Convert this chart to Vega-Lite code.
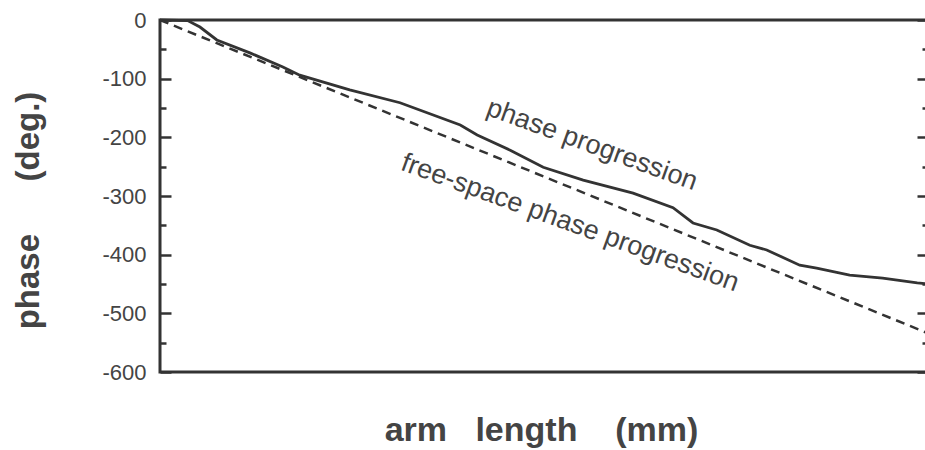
{
  "$schema": "https://vega.github.io/schema/vega-lite/v6.json",
  "width": 768,
  "height": 352,
  "autosize": "none",
  "padding": {"left": 160, "top": 20, "right": 0, "bottom": 78},
  "background": "white",
  "config": {
    "view": {"stroke": "#333333", "strokeWidth": 3},
    "font": "Liberation Sans"
  },
  "datasets": {
    "measured": [
      {"arm": 0, "phase": 0},
      {"arm": 3.6, "phase": -1},
      {"arm": 5.2, "phase": -12},
      {"arm": 7.4, "phase": -34},
      {"arm": 11.7, "phase": -56},
      {"arm": 16.0, "phase": -80},
      {"arm": 18.2, "phase": -94},
      {"arm": 24.7, "phase": -119},
      {"arm": 31.25, "phase": -141},
      {"arm": 39.1, "phase": -179},
      {"arm": 41.3, "phase": -196},
      {"arm": 45.6, "phase": -222},
      {"arm": 49.9, "phase": -251},
      {"arm": 55.1, "phase": -273},
      {"arm": 61.6, "phase": -295},
      {"arm": 66.8, "phase": -320},
      {"arm": 69.4, "phase": -346},
      {"arm": 72.5, "phase": -358},
      {"arm": 76.8, "phase": -384},
      {"arm": 79.0, "phase": -392},
      {"arm": 83.3, "phase": -418},
      {"arm": 85.5, "phase": -423},
      {"arm": 89.8, "phase": -435},
      {"arm": 94.1, "phase": -440},
      {"arm": 98.6, "phase": -448},
      {"arm": 100, "phase": -450}
    ],
    "freespace": [
      {"arm": 0, "phase": 0},
      {"arm": 100, "phase": -534}
    ],
    "labels": [
      {"arm": 56.25, "phase": -213, "label": "phase progression"},
      {"arm": 53.4, "phase": -346, "label": "free-space phase progression"}
    ]
  },
  "encoding": {
    "x": {
      "field": "arm",
      "type": "quantitative",
      "scale": {"domain": [0, 100], "nice": false, "zero": false},
      "axis": {
        "title": "arm\u00a0\u00a0\u00a0length\u00a0\u00a0\u00a0\u00a0(mm)",
        "labels": false,
        "ticks": false,
        "domain": false,
        "grid": false,
        "titleFont": "Liberation Sans",
        "titleFontWeight": "bold",
        "titleFontSize": 34,
        "titleColor": "#444444",
        "titleAlign": "center",
        "titleBaseline": "alphabetic",
        "titleX": 381,
        "titleY": 68
      }
    }
  },
  "layer": [
    {
      "data": {"name": "measured"},
      "mark": {"type": "line", "color": "#333333", "strokeWidth": 2.8},
      "encoding": {
        "y": {
          "field": "phase",
          "type": "quantitative",
          "scale": {"domain": [-600, 0], "nice": false, "zero": false},
          "axis": {
            "orient": "left",
            "values": [0, -50, -100, -150, -200, -250, -300, -350, -400, -450, -500, -550, -600],
            "grid": false,
            "domain": false,
            "ticks": true,
            "tickColor": "#333333",
            "tickWidth": 2.5,
            "tickSize": {"condition": {"test": "datum.value % 100 === 0", "value": -11}, "value": -6},
            "labelExpr": "datum.value % 100 === 0 ? '' + datum.value : ''",
            "labelOverlap": false,
            "labelFlush": false,
            "labelBound": false,
            "labelFont": "Liberation Sans",
            "labelFontSize": 22,
            "labelColor": "#444444",
            "labelPadding": 25,
            "title": "phase\u00a0\u00a0\u00a0\u00a0\u00a0\u2009(deg.)",
            "titleFont": "Liberation Sans",
            "titleFontSize": 33,
            "titleFontWeight": "bold",
            "titleColor": "#444444",
            "titleAngle": -90,
            "titleAlign": "center",
            "titleBaseline": "alphabetic",
            "titleX": -122,
            "titleY": 190
          }
        }
      }
    },
    {
      "data": {"name": "freespace"},
      "mark": {"type": "line", "color": "#333333", "strokeWidth": 2.5, "strokeDash": [9, 6]},
      "encoding": {
        "y": {
          "field": "phase",
          "type": "quantitative",
          "scale": {"domain": [-600, 0], "nice": false, "zero": false},
          "axis": {
            "orient": "right",
            "values": [0, -50, -100, -150, -200, -250, -300, -350, -400, -450, -500, -550, -600],
            "grid": false,
            "domain": false,
            "labels": false,
            "ticks": true,
            "tickColor": "#333333",
            "tickWidth": 2.5,
            "tickSize": {"condition": {"test": "datum.value % 100 === 0", "value": -11}, "value": -6},
            "title": null
          }
        }
      }
    },
    {
      "data": {"name": "labels"},
      "mark": {"type": "text", "angle": 20, "align": "center", "baseline": "middle", "fontSize": 27, "font": "Liberation Sans", "color": "#444444"},
      "encoding": {
        "y": {"field": "phase", "type": "quantitative", "scale": {"domain": [-600, 0], "nice": false, "zero": false}, "axis": null},
        "text": {"field": "label"}
      }
    }
  ],
  "resolve": {"axis": {"y": "independent"}}
}
